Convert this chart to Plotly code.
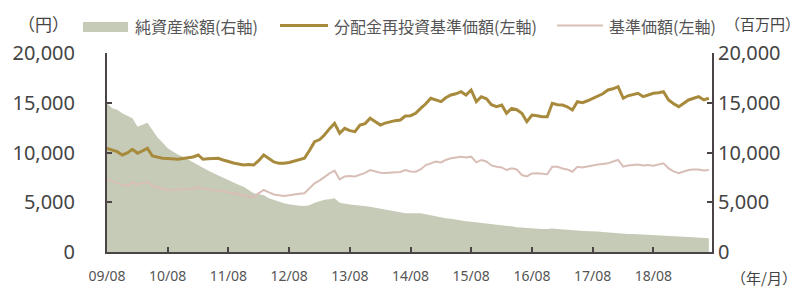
import pandas as pd
import plotly.graph_objects as go

# ---- data (monthly, 2009/08 .. 2019/07) ----
start_month = "2009-08-01"
n_months = 120

nav_reinvest = [  # 分配金再投資基準価額 (円, 左軸)
    10420, 10250, 10080, 9750, 9950, 10320, 9920, 10150, 10420, 9650,
    9550, 9420, 9400, 9350, 9320, 9400, 9480, 9550, 9750, 9320,
    9380, 9420, 9420, 9250, 9080, 8950, 8850, 8740, 8800, 8740,
    9200, 9750, 9400, 9050, 8910, 8910, 9000, 9150, 9250, 9420,
    10200, 11090, 11300, 11760, 12400, 12930, 11930, 12430, 12200, 12090,
    12760, 12900, 13440, 13100, 12760, 12950, 13100, 13200, 13270, 13670,
    13700, 13940, 14440, 14900, 15450, 15300, 15110, 15500, 15780, 15900,
    16110, 15780, 16280, 15110, 15610, 15400, 14800, 14610, 14770, 13940,
    14440, 14300, 13940, 13100, 13770, 13700, 13600, 13600, 14940, 14800,
    14770, 14600, 14270, 15110, 15000, 15200, 15450, 15700, 15900, 16280,
    16400, 16610, 15450, 15700, 15800, 15950, 15610, 15800, 15950, 16000,
    16110, 15280, 14900, 14610, 15000, 15280, 15450, 15610, 15280, 15450,
]

nav = [  # 基準価額 (円, 左軸)
    7300, 7100, 6950, 6750, 6650, 6970, 6800, 6900, 7070, 6650,
    6500, 6350, 6230, 6250, 6280, 6300, 6300, 6350, 6450, 6350,
    6250, 6200, 6170, 6100, 6000, 5900, 5800, 5700, 5580, 5560,
    5900, 6230, 6000, 5780, 5700, 5630, 5700, 5800, 5850, 5900,
    6400, 6900, 7200, 7570, 7900, 8170, 7300, 7600, 7640, 7600,
    7740, 7950, 8240, 8100, 7970, 7950, 7970, 7970, 8050, 8240,
    8100, 8070, 8300, 8740, 8900, 9080, 9000, 9250, 9420, 9500,
    9580, 9500, 9580, 9010, 9250, 9100, 8700, 8570, 8500, 8240,
    8410, 8300, 7740, 7600, 7900, 7910, 7850, 7810, 8570, 8570,
    8400, 8300, 8070, 8570, 8500, 8600, 8740, 8800, 8850, 8910,
    9100, 9250, 8570, 8700, 8750, 8800, 8700, 8750, 8670, 8800,
    8910, 8400, 8100, 7910, 8100, 8240, 8300, 8300, 8200, 8240,
]

net_assets = [  # 純資産総額 (百万円, 右軸)
    14940, 14440, 14300, 13940, 13700, 13440, 12590, 12800, 13000, 12260,
    11500, 11000, 10420, 10100, 9800, 9580, 9300, 9000, 8700, 8410,
    8200, 7950, 7700, 7450, 7240, 7000, 6750, 6560, 6250, 5900,
    5800, 5700, 5400, 5230, 5050, 4890, 4800, 4700, 4650, 4620,
    4700, 4960, 5100, 5250, 5300, 5400, 4960, 4850, 4780, 4720,
    4680, 4620, 4560, 4450, 4350, 4250, 4150, 4100, 4000, 3890,
    3900, 3900, 3890, 3800, 3700, 3550, 3500, 3400, 3350, 3250,
    3150, 3100, 3050, 3000, 2950, 2880, 2800, 2750, 2710, 2650,
    2580, 2500, 2450, 2400, 2350, 2310, 2300, 2300, 2350, 2310,
    2250, 2200, 2150, 2150, 2120, 2110, 2080, 2050, 2000, 1950,
    1920, 1880, 1850, 1820, 1800, 1780, 1750, 1730, 1710, 1680,
    1650, 1620, 1600, 1570, 1540, 1500, 1460, 1420, 1400, 1380,
]

tick_dates = ["2009-08-01", "2010-08-01", "2011-08-01", "2012-08-01", "2013-08-01",
              "2014-08-01", "2015-08-01", "2016-08-01", "2017-08-01", "2018-08-01"]
tick_labels = ["09/08", "10/08", "11/08", "12/08", "13/08",
               "14/08", "15/08", "16/08", "17/08", "18/08"]
y_ticks = [0, 5000, 10000, 15000, 20000]

legend_names = ["純資産総額(右軸)", "分配金再投資基準価額(左軸)", "基準価額(左軸)"]

dates = pd.date_range(start_month, periods=n_months, freq="MS")
x_range = ["2009-08-01", "2019-07-20"]
y_range = [0, 20000]

# ---- styling ----
W, H = 800, 287
ML, MR, MT, MB = 107, 88, 53, 35
PW, PH = W - ML - MR, H - MT - MB

def px(x):
    return (x - ML) / PW

def py(y):
    return (H - MB - y) / PH

C_FILL = "#c6cbb7"
C_GOLD = "#a88a3c"
C_PINK = "#d9beb7"
C_AXIS = "#4a4446"
C_TEXT = "#444444"
CLEAR = "rgba(0,0,0,0)"
CJK = "Noto Sans CJK JP"
NUM = "Noto Sans"
NBSP = "\u00a0"
ZWSP = "\u200b"

fig = go.Figure()
# net assets on the right axis (x / y), drawn underneath
fig.add_trace(go.Scatter(x=dates, y=net_assets, xaxis="x", yaxis="y", mode="lines",
                         line=dict(width=0, color=C_FILL), fill="tozeroy",
                         fillcolor=C_FILL, name=legend_names[0]))
# NAV lines on the left (yen) scale
fig.add_trace(go.Scatter(x=dates, y=nav, xaxis="x2", yaxis="y2", mode="lines",
                         line=dict(width=2, color=C_PINK), name=legend_names[2]))
fig.add_trace(go.Scatter(x=dates, y=nav_reinvest, xaxis="x2", yaxis="y3", mode="lines",
                         line=dict(width=3, color=C_GOLD), name=legend_names[1]))

axis_line = dict(showline=True, linecolor=C_AXIS, linewidth=2, ticks="inside",
                 ticklen=5, tickwidth=1.5, tickcolor=C_AXIS, showgrid=False,
                 zeroline=False, automargin=False)
label_only = dict(showline=False, ticks="outside", tickcolor=CLEAR, showgrid=False,
                  zeroline=False, automargin=False)

fig.update_layout(
    width=W, height=H, margin=dict(l=ML, r=MR, t=MT, b=MB, autoexpand=False),
    paper_bgcolor="white", plot_bgcolor="white", showlegend=False,
    # bottom axis line + inside ticks
    xaxis=dict(range=x_range, tickvals=tick_dates, showticklabels=False, **axis_line),
    # bottom tick labels
    xaxis2=dict(range=x_range, tickvals=tick_dates, ticktext=tick_labels,
                overlaying="x", side="bottom", anchor="y", ticklen=11,
                tickfont=dict(family=NUM, size=14, color="#555555"), **label_only),
    # right axis: 純資産総額 (百万円)
    yaxis=dict(range=y_range, tickvals=y_ticks, tickformat=",", side="right",
               tickprefix=ZWSP + NBSP * 4,
               tickfont=dict(family=NUM, size=20, color=C_TEXT), **axis_line),
    # left axis line + inside ticks (円)
    yaxis2=dict(range=y_range, tickvals=y_ticks, side="left", overlaying="y",
                anchor="x", showticklabels=False, **axis_line),
    # left tick labels (円)
    yaxis3=dict(range=y_range, tickvals=y_ticks, tickformat=",", side="left",
                overlaying="y", anchor="x", ticklen=27,
                tickfont=dict(family=NUM, size=20, color=C_TEXT), **label_only),
)

# ---- custom legend & unit labels ----
shapes = [
    dict(type="rect", xref="paper", yref="paper", x0=px(83), x1=px(128),
         y0=py(32), y1=py(22), fillcolor=C_FILL, line=dict(width=0)),
    dict(type="line", xref="paper", yref="paper", x0=px(280), x1=px(328),
         y0=py(25.5), y1=py(25.5), line=dict(color=C_GOLD, width=3)),
    dict(type="line", xref="paper", yref="paper", x0=px(557), x1=px(603),
         y0=py(25.5), y1=py(25.5), line=dict(color=C_PINK, width=2)),
]
ann = [
    dict(text=legend_names[0], x=px(133), y=py(26), xanchor="left"),
    dict(text=legend_names[1], x=px(332), y=py(26), xanchor="left"),
    dict(text=legend_names[2], x=px(607), y=py(26), xanchor="left"),
    dict(text="（円）", x=px(43), y=py(24), xanchor="center"),
    dict(text="（百万円）", x=px(723), y=py(23), xanchor="left"),
    dict(text="（年/月）", x=px(729), y=py(277), xanchor="left"),
]
for a in ann:
    a.update(xref="paper", yref="paper", yanchor="middle", showarrow=False,
             font=dict(family=CJK, size=16, color="#555555"))
for i in (3, 4, 5):
    ann[i]["font"] = dict(family=CJK, size=15 if i != 3 else 17, color=C_TEXT)
fig.update_layout(shapes=shapes, annotations=ann)

fig.write_html("out.html", config={"displayModeBar": False},
               post_script="document.body.style.margin='0';")
